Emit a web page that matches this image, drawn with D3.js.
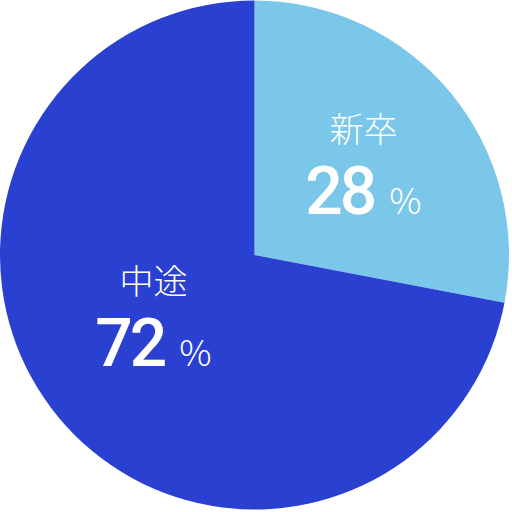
<!DOCTYPE html>
<html lang="ja">
<head>
<meta charset="UTF-8"/>
<title>新卒・中途 比率</title>
<script src="https://d3js.org/d3.v7.min.js"></script>
<style>
  body { margin: 0; background: #fff; }
  text { font-family: "Noto Sans CJK JP", "Noto Sans", sans-serif; fill: #fff; }
</style>
</head>
<body>
<script>
var w = 512;
var h = 512;

var categories = ["新卒", "中途"];
var values = [28, 72];
var colors = ["#7ac7ea", "#2a40d0"];

var cx = 254.5, cy = 255, radius = 254.5;

var svg = d3.select("body")
            .append("svg")
            .attr("width", w)
            .attr("height", h);

var pie = d3.pie().sort(null).value(function(d){ return d; });
var arcs = pie(values);

var arc = d3.arc().innerRadius(0).outerRadius(radius);

var g = svg.append("g")
           .attr("transform", "translate(" + cx + "," + cy + ")");

g.selectAll("path")
  .data(arcs)
  .enter()
  .append("path")
  .attr("d", arc)
  .attr("fill", function(d, i){ return colors[i]; });

/* label positions */
var labelPos = [[109, -113], [-101, 39]];

var labels = g.selectAll("g.label")
  .data(arcs)
  .enter()
  .append("g")
  .attr("class", "label")
  .attr("transform", function(d, i){
      return "translate(" + labelPos[i][0] + "," + labelPos[i][1] + ")";
  });

labels.append("text")
  .attr("text-anchor", "middle")
  .attr("y", 0)
  .attr("font-size", "34px")
  .attr("font-weight", 300)
  .text(function(d, i){ return categories[i]; });

var pct = labels.append("text")
  .attr("text-anchor", "middle")
  .attr("y", 72);

pct.append("tspan")
  .attr("font-size", "66px")
  .attr("font-weight", 500)
  .attr("letter-spacing", "-3")
  .attr("font-family", "Roboto, 'Noto Sans', sans-serif")
  .text(function(d){ return d.data; });

pct.append("tspan")
  .attr("dx", 15)
  .attr("font-size", "36px")
  .attr("font-weight", 300)
  .text("%");
</script>
</body>
</html>
